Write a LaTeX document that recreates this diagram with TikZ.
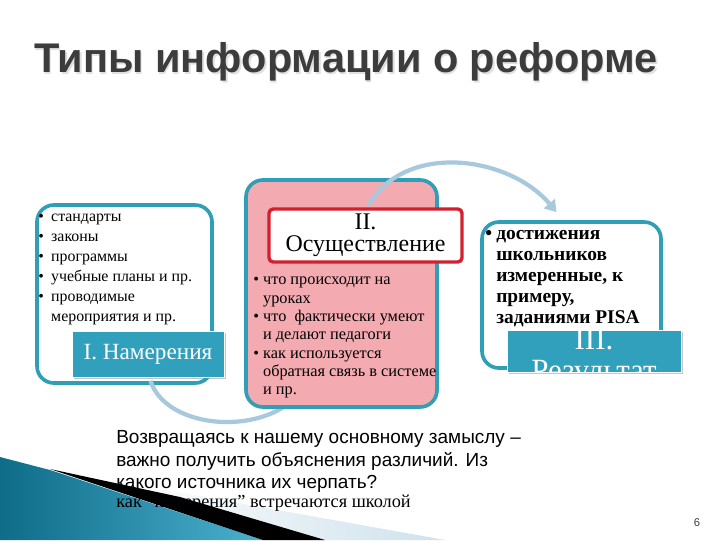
\documentclass[tikz,border=0pt]{standalone}
\usepackage{fontspec}
\setmainfont{Liberation Serif}
\setsansfont{Liberation Sans}
\usetikzlibrary{arrows.meta,positioning,shadows,calc}
\definecolor{tealclr}{HTML}{2E9FB6}
\definecolor{labelclr}{HTML}{31A0BC}
\definecolor{pinkclr}{HTML}{F3AAB0}
\definecolor{redclr}{HTML}{D2202F}
\definecolor{arcclr}{HTML}{A8C8DD}
\definecolor{titleclr}{HTML}{3C3C3C}
\definecolor{deepteal}{HTML}{0E6C88}
\definecolor{liteteal}{HTML}{4BB0CE}
\definecolor{paleclr}{HTML}{CFE2EC}
\def\pxu{0.025cm}
\newcommand\bl{\makebox[9.2pt][l]{\textbullet}}
\newcommand\ind{\hspace*{9.2pt}}
\newcommand\blc{\makebox[7pt][l]{\textbullet}}
\newcommand\indc{\hspace*{7pt}}
\newcommand\blb{\makebox[7.8pt][l]{\textbullet}}
\newcommand\indb{\hspace*{7.8pt}}

\begin{document}
\begin{tikzpicture}[x=0.025cm, y=-0.025cm,
  tealbox/.style={draw=tealclr, line width=2.6pt, rounded corners=12pt, inner sep=0pt},
  labelbox/.style={fill=labelclr, draw=white, line width=0.6pt, inner sep=0pt,
    drop shadow={shadow xshift=1.5pt, shadow yshift=-1.5pt, opacity=0.45}},
  listtext/.style={anchor=north west, inner sep=0pt, align=left,
    font=\fontsize{11.3}{14.2}\selectfont},
  arcline/.style={draw=arcclr, line width=3pt},
  titletext/.style={font=\sffamily\bfseries\fontsize{29.5}{34}\selectfont}]
\useasboundingbox (0,0) rectangle (720,540);

% --- corner decoration (the closing text is laid over it) -----------------------
\shade[left color=white, right color=paleclr] (110,480) -- (445,540) -- (300,540) -- cycle;
\shade[left color=deepteal, right color=liteteal] (0,457) -- (50,470) -- (263,540) -- (0,540) -- cycle;
\fill[black] (50,469) -- (180,497) -- (325,540) -- (263,540) -- cycle;

% --- title ------------------------------------------------------------------
\node[titletext, text=black!12] at (347.5,63.5) {Типы информации о реформе};
\node[titletext, text=titleclr] (title) at (346,62) {Типы информации о реформе};

% --- I. intentions ------------------------------------------------------------
\node[tealbox, fill=white, minimum width=175*\pxu, minimum height=178*\pxu] (box1) at (124.5,294) {};
\node[listtext] (list1) at (38,214)
  {\bl стандарты\\ \bl законы\\ \bl программы\\ \bl учебные планы и пр.\\
   \bl проводимые\\ \ind мероприятия и пр.};

% --- the lower arc, tucked under box II ----------------------------------------
\coordinate (arcend) at (292,401);
\draw[arcline] ($(box1.south)+(26,-4)$) .. controls (165,426) and (250,436) .. (arcend);

\node[labelbox, minimum width=152*\pxu, minimum height=46*\pxu, text=white,
  font=\fontsize{16.5}{18}\selectfont] (lab1) at (148,354) {I. Намерения};

% --- II. implementation -------------------------------------------------------
\node[tealbox, fill=pinkclr, minimum width=191*\pxu, minimum height=227*\pxu] (box2) at (341.5,293.5) {};
\node[listtext, font=\fontsize{11.6}{13}\selectfont] (list2) at (253,277)
  {\blc что происходит на\\ \indc уроках\\ \blc что \ фактически умеют\\ \indc и делают педагоги\\
   \blc как используется\\ \indc обратная связь в системе\\ \indc и пр.};

% --- III. result ----------------------------------------------------------------
\node[tealbox, fill=white, minimum width=179*\pxu, minimum height=146*\pxu] (box3) at (571.5,295) {};
\node[listtext, font=\bfseries\fontsize{13.8}{15}\selectfont] (list3) at (485,230)
  {\blb достижения\\ \indb школьников\\ \indb измеренные, к\\ \indb примеру,\\ \indb заданиями PISA};

% --- the upper arc ------------------------------------------------------------
\draw[arcline, -{Triangle[length=8pt, width=10pt]}]
  ($(box2.north)+(27,27)$) to[out=60, in=130] ($(box3.north)+(-15,-8)$);

\node[draw=redclr, fill=white, line width=2.4pt, rounded corners=3pt,
  minimum width=193*\pxu, minimum height=53*\pxu, align=center, inner sep=0pt,
  font=\fontsize{17}{15.8}\selectfont] (stage2) at (365.5,235.5) {II.\\Осуществление};

\node[labelbox, minimum width=174*\pxu, minimum height=42*\pxu] (lab3) at (594,351) {};
\begin{scope}
  \clip (lab3.south west) rectangle (lab3.north east);
  \node[text=white, align=center, inner sep=0pt, font=\fontsize{22}{22}\selectfont] (lab3txt)
    at ($(lab3.north)+(0,29)$) {III.\\Результат};
\end{scope}

% --- closing remarks --------------------------------------------------------------
\node[anchor=north west, inner sep=0pt, align=left,
  font=\sffamily\fontsize{13.5}{16.2}\selectfont] (remark) at (116,430)
  {Возвращаясь к нашему основному замыслу –\\важно получить объяснения различий. Из\\какого источника их черпать?};
\node[anchor=base west, inner sep=0pt, font=\fontsize{13}{14}\selectfont] (remark2)
  at (116,507) {как "намерения" встречаются школой};

\node[font=\sffamily\fontsize{8}{9}\selectfont, text=titleclr] (pagenum) at (697,523) {6};

\end{tikzpicture}
\end{document}
